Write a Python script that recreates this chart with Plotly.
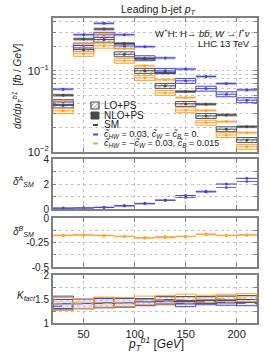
import plotly.graph_objects as go

# ---------------- data ----------------
bin_edges = [20, 40, 60, 80, 100, 120, 140, 160, 180, 200, 220]
bin_centers = [30, 50, 70, 90, 110, 130, 150, 170, 190, 210]

# main panel: d sigma / d pT [fb/GeV]
sm_nlo = [0.0501, 0.246, 0.327, 0.217, 0.141, 0.0945, 0.0555, 0.0388, 0.0286, 0.0205]
sm_lo = [0.0375, 0.182, 0.242, 0.160, 0.100, 0.0653, 0.0392, 0.0278, 0.0191, 0.0141]
blue_nlo = [0.0594, 0.278, 0.384, 0.278, 0.198, 0.144, 0.105, 0.0851, 0.0697, 0.0582]
blue_lo = [0.0414, 0.205, 0.278, 0.202, 0.143, 0.100, 0.0753, 0.0604, 0.0515, 0.0435]
orange_nlo = [0.0427, 0.214, 0.284, 0.188, 0.115, 0.0774, 0.0468, 0.0325, 0.0237, 0.0173]
orange_lo = [0.0321, 0.162, 0.204, 0.133, 0.082, 0.0535, 0.0327, 0.0230, 0.0162, 0.0116]
# relative scale uncertainties
nlo_unc = [0.04, 0.04, 0.04, 0.04, 0.04, 0.04, 0.04, 0.04, 0.04, 0.04]
lo_unc = [0.07, 0.07, 0.07, 0.07, 0.07, 0.07, 0.07, 0.07, 0.07, 0.07]

# delta^A_SM (blue) and delta^B_SM (orange)
delta_a_nlo = [0.08, 0.09, 0.14, 0.27, 0.45, 0.72, 1.08, 1.42, 2.00, 2.45]
delta_a_lo = [0.05, 0.07, 0.12, 0.24, 0.41, 0.68, 0.92, 1.36, 1.72, 2.20]
delta_b_nlo = [-0.18, -0.175, -0.18, -0.19, -0.205, -0.20, -0.19, -0.17, -0.18, -0.175]
delta_b_lo = [-0.175, -0.17, -0.177, -0.186, -0.20, -0.19, -0.186, -0.163, -0.176, -0.17]

# K factors
k_sm_lo = [1.30, 1.30, 1.32, 1.33, 1.37, 1.38, 1.40, 1.41, 1.42, 1.43]
k_sm_hi = [1.49, 1.51, 1.52, 1.52, 1.51, 1.55, 1.55, 1.55, 1.56, 1.57]
k_sm_c = [1.40, 1.41, 1.42, 1.42, 1.44, 1.46, 1.45, 1.47, 1.48, 1.49]
k_blue_lo = [1.27, 1.30, 1.32, 1.34, 1.36, 1.41, 1.34, 1.38, 1.37, 1.36]
k_blue_hi = [1.56, 1.50, 1.51, 1.51, 1.50, 1.49, 1.47, 1.48, 1.47, 1.45]
k_blue_c = [1.35, 1.40, 1.41, 1.42, 1.45, 1.45, 1.41, 1.44, 1.43, 1.41]
k_or_lo = [1.26, 1.30, 1.33, 1.34, 1.38, 1.40, 1.42, 1.43, 1.44, 1.45]
k_or_hi = [1.53, 1.51, 1.54, 1.53, 1.56, 1.57, 1.60, 1.58, 1.60, 1.61]
k_or_c = [1.40, 1.41, 1.43, 1.43, 1.46, 1.48, 1.49, 1.50, 1.51, 1.52]

# ---------------- styles ----------------
BLUE = '#4646d2'
BLUE_FILL = 'rgba(80,80,225,0.40)'
BLUE_LIGHT = 'rgba(80,80,225,0.25)'
ORANGE = '#ffa230'
ORANGE_FILL = 'rgba(255,165,50,0.45)'
ORANGE_LIGHT = 'rgba(255,165,50,0.28)'
GREY = '#474747'
GREY_FILL = 'rgba(70,70,70,0.65)'
FRAME = '#808080'
GRID = '#c4c4c4'
FONT = 'Liberation Sans, Arial, sans-serif'

W, H = 270, 360
ML, MT = 53, 18
PW, PH = 204, 305
MR, MB = W - ML - PW, H - MT - PH


def px(xp):
    return (xp - ML) / PW


def py(yp):
    return (MT + PH - yp) / PH


def hseg(vals):
    xs, ys = [], []
    for a, b, v in zip(bin_edges[:-1], bin_edges[1:], vals):
        xs += [a, b, None]
        ys += [v, v, None]
    return xs, ys


fig = go.Figure()


def box(vals_lo, vals_hi, xa, ya, fill, line, width=1.0, pattern=None):
    base = list(vals_lo)
    hgt = [h - l for l, h in zip(vals_lo, vals_hi)]
    marker = dict(color=fill, line=dict(color=line, width=width))
    if pattern is not None:
        marker['pattern'] = pattern
    fig.add_trace(go.Bar(x=bin_centers, y=hgt, base=base, width=20, marker=marker,
                         xaxis=xa, yaxis=ya, showlegend=False, hoverinfo='skip'))


def centre(vals, xa, ya, color, width=1.0, dash='solid', marker=True, err=None):
    xs, ys = hseg(vals)
    fig.add_trace(go.Scatter(x=xs, y=ys, mode='lines', line=dict(color=color, width=width, dash=dash),
                             xaxis=xa, yaxis=ya, showlegend=False, hoverinfo='skip'))
    if marker:
        ey = dict(type='data', array=err, width=0, thickness=1, color=color, visible=True) if err else None
        fig.add_trace(go.Scatter(x=bin_centers, y=vals, mode='markers',
                                 marker=dict(color=color, size=3),
                                 error_y=ey, xaxis=xa, yaxis=ya, showlegend=False, hoverinfo='skip'))


def hatch(fg, shape='/'):
    return dict(shape=shape, fgcolor=fg, bgcolor='rgba(255,255,255,0.75)', size=4, solidity=0.18,
                fillmode='replace')


# ---- main panel ----
for lo_vals, colr, fg in [(sm_lo, '#555555', '#8a8a8a'), (blue_lo, BLUE, '#9a9aee'), (orange_lo, ORANGE, '#ffc880')]:
    box([v * (1 - u) for v, u in zip(lo_vals, lo_unc)], [v * (1 + u) for v, u in zip(lo_vals, lo_unc)],
        'x', 'y', 'rgba(255,255,255,0.75)', colr, 1.0, hatch(fg))
for nlo_vals, fill in [(sm_nlo, GREY_FILL), (blue_nlo, BLUE_FILL), (orange_nlo, ORANGE_FILL)]:
    box([v * (1 - u) for v, u in zip(nlo_vals, nlo_unc)], [v * (1 + u) for v, u in zip(nlo_vals, nlo_unc)],
        'x', 'y', fill, 'rgba(0,0,0,0)', 0)
for vals, colr in [(sm_lo, GREY), (blue_lo, BLUE), (orange_lo, ORANGE),
                   (sm_nlo, GREY), (blue_nlo, BLUE), (orange_nlo, ORANGE)]:
    centre(vals, 'x', 'y', colr, 1.0, err=[v * 0.025 for v in vals])

# ---- delta A panel ----
box([v - 0.05 for v in delta_a_lo], [v + 0.05 for v in delta_a_lo], 'x2', 'y2', BLUE_LIGHT, 'rgba(0,0,0,0)', 0)
box([v - 0.04 for v in delta_a_nlo], [v + 0.04 for v in delta_a_nlo], 'x2', 'y2', BLUE_LIGHT, 'rgba(0,0,0,0)', 0)
centre(delta_a_lo, 'x2', 'y2', 'rgba(70,70,210,0.75)', 1.0, err=[0.06] * 10)
centre(delta_a_nlo, 'x2', 'y2', BLUE, 1.0, err=[0.08] * 10)

# ---- delta B panel ----
box([v - 0.008 for v in delta_b_lo], [v + 0.008 for v in delta_b_lo], 'x3', 'y3', ORANGE_LIGHT, 'rgba(0,0,0,0)', 0)
box([v - 0.006 for v in delta_b_nlo], [v + 0.006 for v in delta_b_nlo], 'x3', 'y3', ORANGE_LIGHT, 'rgba(0,0,0,0)', 0)
centre(delta_b_lo, 'x3', 'y3', 'rgba(255,160,40,0.7)', 1.0)
centre(delta_b_nlo, 'x3', 'y3', ORANGE, 1.0, err=[0.012] * 10)

# ---- K factor panel ----
box(k_sm_lo, k_sm_hi, 'x4', 'y4', 'rgba(255,255,255,0.6)', '#5a5a5a', 1.2, hatch('#a0a0a0', 'x'))
box(k_blue_lo, k_blue_hi, 'x4', 'y4', 'rgba(80,80,225,0.12)', BLUE, 1.0)
box(k_or_lo, k_or_hi, 'x4', 'y4', 'rgba(0,0,0,0)', ORANGE, 1.0)
centre(k_sm_c, 'x4', 'y4', GREY, 1.0, marker=False)
centre(k_blue_c, 'x4', 'y4', BLUE, 1.0, dash='dash', marker=False)
centre(k_or_c, 'x4', 'y4', ORANGE, 1.0, dash='dash', marker=False)

# ---------------- axes ----------------
d_main = [py(152), 1.0]
d_a = [py(209), py(159)]
d_b = [py(267), py(218)]
d_k = [0.0, py(275)]

xcommon = dict(range=[20, 220], showline=True, linecolor=FRAME, linewidth=2, mirror='ticks',
               ticks='inside', ticklen=4, tickcolor=FRAME, tickvals=[50, 100, 150, 200],
               showgrid=True, gridcolor=GRID, griddash='dot', gridwidth=1, zeroline=False,
               automargin=False, tickfont=dict(size=11, family=FONT, color='#222'))
ycommon = dict(showline=True, linecolor=FRAME, linewidth=2, mirror='ticks', ticks='inside', ticklen=3,
               tickcolor=FRAME, showgrid=True, gridcolor=GRID, griddash='dot', gridwidth=1, zeroline=False,
               automargin=False, tickfont=dict(size=10, family=FONT, color='#222'))

main_ticks = [0.01, 0.02, 0.03, 0.04, 0.05, 0.06, 0.07, 0.08, 0.09, 0.1, 0.2, 0.3, 0.4]
main_text = ['10<sup>−2</sup>', '', '', '', '', '', '', '', '', '10<sup>−1</sup>', '', '', '']

fig.update_layout(
    width=W, height=H, margin=dict(l=ML, r=MR, t=MT, b=MB, autoexpand=False),
    paper_bgcolor='white', plot_bgcolor='white', barmode='overlay', showlegend=False,
    font=dict(family=FONT, color='#222'), hovermode=False, dragmode=False,
    xaxis=dict(xcommon, domain=[0, 1], anchor='y', matches='x4', showticklabels=False),
    xaxis2=dict(xcommon, domain=[0, 1], anchor='y2', matches='x4', showticklabels=False),
    xaxis3=dict(xcommon, domain=[0, 1], anchor='y3', matches='x4', showticklabels=False),
    xaxis4=dict(xcommon, domain=[0, 1], anchor='y4', showticklabels=True),
    yaxis=dict(ycommon, domain=d_main, anchor='x', type='log', range=[-2, -0.35],
               tickvals=main_ticks, ticktext=main_text, tickfont=dict(size=11, family=FONT, color='#222')),
    yaxis2=dict(ycommon, domain=d_a, anchor='x2', range=[0, 4], tickvals=[0, 1, 2, 3, 4],
                ticktext=['0', '', '2', '', '4']),
    yaxis3=dict(ycommon, domain=d_b, anchor='x3', range=[-0.5, 0], tickvals=[-0.5, -0.375, -0.25, -0.125, 0],
                ticktext=['-0.5', '', '-0.25', '', '0']),
    yaxis4=dict(ycommon, domain=d_k, anchor='x4', range=[1, 2], tickvals=[1, 1.25, 1.5, 1.75, 2],
                ticktext=['1', '', '1.5', '', '2']),
)

# ---------------- texts ----------------
ann = []


def text(t, xp, yp, size=10, xanchor='center', angle=0):
    ann.append(dict(text=t, x=px(xp), y=py(yp), xref='paper', yref='paper', showarrow=False,
                    xanchor=xanchor, yanchor='middle', textangle=angle,
                    font=dict(size=size, family=FONT, color='#222')))


text('Leading b-jet <i>p<sub>T</sub></i>', 158, 10, 10.5)
text('W<sup>+</sup>H: H→ <i>b</i><i>b̄</i>, <i>W</i> → <i>l</i><sup>+</sup><i>ν</i>', 252, 33, 9.5, 'right')
text('LHC 13 TeV', 252, 43.5, 9.5, 'right')
text('<i>dσ/dp<sub>T</sub><sup>b1</sup></i>  [<i>fb</i> / <i>GeV</i>]', 17, 86, 10, angle=-90)
text('<i>δ<sup>A</sup><sub>SM</sub></i>', 23, 181, 10)
text('<i>δ<sup>B</sup><sub>SM</sub></i>', 23, 231, 10)
text('<i>K<sub>fact</sub></i>', 26, 296, 10)
text('<i>p<sub>T</sub><sup>b1</sup></i> [<i>GeV</i>]', 156, 344, 12)

# legend texts
text('LO+PS', 102, 105.5, 10, 'left')
text('NLO+PS', 102, 115.5, 10, 'left')
text('SM', 102, 125, 10, 'left')
text('<i>c̃<sub>HW</sub></i> = 0.03, <i>c̃<sub>W</sub></i> = <i>c̃<sub>B</sub></i> = 0.', 102, 134.5, 9, 'left')
text('<i>c̃<sub>HW</sub></i> = −<i>c̃<sub>W</sub></i> = 0.03, <i>c̃<sub>B</sub></i> = 0.015', 102, 143.5, 9, 'left')

shapes = []
# legend symbols
shapes.append(dict(type='rect', xref='paper', yref='paper', x0=px(91), x1=px(99), y0=py(109), y1=py(102),
                   line=dict(color=GREY, width=1.2), fillcolor='white'))
for a, b in [((91.5, 105.5), (95, 102.5)), ((93, 108.5), (98.5, 103)), ((96, 108.5), (98.5, 106))]:
    shapes.append(dict(type='line', xref='paper', yref='paper', x0=px(a[0]), y0=py(a[1]), x1=px(b[0]),
                       y1=py(b[1]), line=dict(color='#777', width=0.8)))
shapes.append(dict(type='rect', xref='paper', yref='paper', x0=px(91), x1=px(99), y0=py(119), y1=py(112),
                   line=dict(color=GREY, width=1), fillcolor='#4a4a4a'))
for yy, c in [(125, GREY), (134.5, BLUE), (143.5, ORANGE)]:
    shapes.append(dict(type='line', xref='paper', yref='paper', x0=px(93), x1=px(98), y0=py(yy), y1=py(yy),
                       line=dict(color=c, width=2)))

fig.update_layout(annotations=ann, shapes=shapes)
fig.write_html('out.html',
               config={'displayModeBar': False, 'staticPlot': True},
               post_script="document.body.style.margin='0';document.body.style.padding='0';"
                           "document.documentElement.style.overflow='hidden';")
